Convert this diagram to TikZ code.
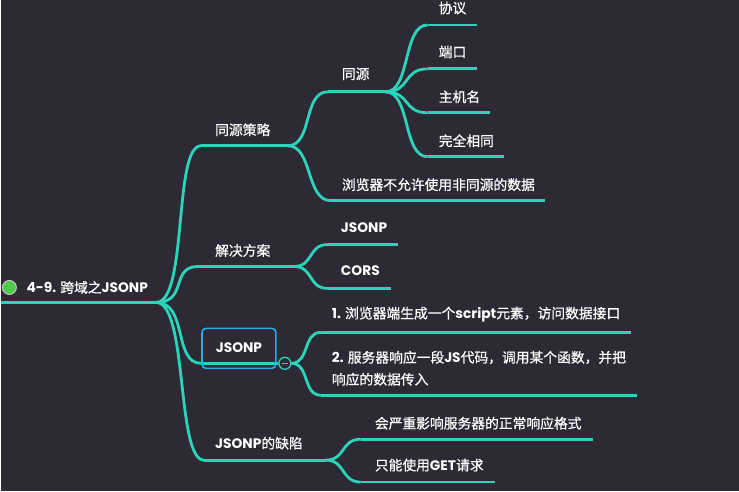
\documentclass[tikz,border=0pt]{standalone}
\usepackage{fontspec}
\setmainfont{Noto Sans CJK SC}[FakeBold=0.6]
\newfontfamily\enfont{Poppins}
\newcommand{\lat}[1]{{\enfont\bfseries #1}}

\definecolor{bgdark}{HTML}{2E2A35}
\definecolor{mapteal}{HTML}{2BD4BA}
\definecolor{boxblue}{HTML}{2AA9F0}
\definecolor{dotgreen}{HTML}{4CCB4C}

\begin{document}
\begin{tikzpicture}[
    x=1pt, y=-1pt,
    every node/.style={text=white, font=\fontsize{13.8}{22}\selectfont},
    topic/.style={anchor=west, inner sep=0pt},
    stem/.style={mapteal, line width=2.8pt},
    link/.style={mapteal, line width=2.8pt},
]

% === Canvas ===
\fill[bgdark] (0,0) rectangle (739,492);

% === Root ===
\coordinate (root-s) at (0,303);
\coordinate (root-e) at (155,303);
\draw[stem] (root-s) -- (root-e);
\node[circle, fill=dotgreen, draw=gray!45, line width=1pt, minimum size=14pt, inner sep=0pt] (dot) at (8,288) {};
\node[topic] (root) at (25,288) {\lat{4-9.} 跨域之\lat{JSONP}};

% === Level 1 ===
% 同源策略
\coordinate (tycl-s) at (200,146);
\coordinate (tycl-e) at (287,146);
\draw[stem] (tycl-s) -- (tycl-e);
\node[topic] (tycl) at (214,130) {同源策略};

% 解决方案
\coordinate (jjfa-s) at (197,267);
\coordinate (jjfa-e) at (293,267);
\draw[stem] (jjfa-s) -- (jjfa-e);
\node[topic] (jjfa) at (214,251) {解决方案};

% JSONP (selected, with box)
\coordinate (jsonp-s) at (200,364);
\coordinate (jsonp-e) at (277,364);
\draw[stem] (jsonp-s) -- (jsonp-e);
\node (jsonp) at (238,348) {\lat{JSONP}};
\draw[boxblue, line width=1.6pt, rounded corners=4pt] (201,329) rectangle (275,369);
\node[circle, fill=bgdark, draw=mapteal, line width=1.3pt, minimum size=12pt, inner sep=0pt] (fold) at (284,364) {};
\draw[mapteal, line width=1.2pt] ([xshift=-3pt]fold.center) -- ([xshift=3pt]fold.center);

% JSONP的缺陷
\coordinate (qx-s) at (203,461);
\coordinate (qx-e) at (325,461);
\draw[stem] (qx-s) -- (qx-e);
\node[topic] (qx) at (214,444) {\lat{JSONP}的缺陷};

% === Level 2 ===
% 同源
\coordinate (ty-s) at (327,92);
\coordinate (ty-e) at (385,92);
\draw[stem] (ty-s) -- (ty-e);
\node[topic] (ty) at (341,74) {同源};

% 浏览器不允许使用非同源的数据
\coordinate (bzx-s) at (330,201);
\coordinate (bzx-e) at (545,201);
\draw[stem] (bzx-s) -- (bzx-e);
\node[topic] (bzx) at (341,185) {浏览器不允许使用非同源的数据};

% JSONP / CORS
\coordinate (fa1-s) at (327,245);
\coordinate (fa1-e) at (397,245);
\draw[stem] (fa1-s) -- (fa1-e);
\node[topic] (fa1) at (340,228) {\lat{JSONP}};

\coordinate (fa2-s) at (327,289);
\coordinate (fa2-e) at (390,289);
\draw[stem] (fa2-s) -- (fa2-e);
\node[topic] (fa2) at (340,271) {\lat{CORS}};

% steps
\coordinate (bu1-s) at (320,333);
\coordinate (bu1-e) at (631,333);
\draw[stem] (bu1-s) -- (bu1-e);
\node[topic] (bu1) at (331,315) {\lat{1.} 浏览器端生成一个\lat{script}元素，访问数据接口};

\coordinate (bu2-s) at (320,396);
\coordinate (bu2-e) at (637,396);
\draw[stem] (bu2-s) -- (bu2-e);
\node[topic, align=left] (bu2) at (331,369) {\lat{2.} 服务器响应一段\lat{JS}代码，调用某个函数，并把\\响应的数据传入};

% defects
\coordinate (qx1-s) at (360,440);
\coordinate (qx1-e) at (593,440);
\draw[stem] (qx1-s) -- (qx1-e);
\node[topic] (qx1) at (374,424) {会严重影响服务器的正常响应格式};

\coordinate (qx2-s) at (360,483);
\coordinate (qx2-e) at (495,483);
\draw[stem] (qx2-s) -- (qx2-e);
\node[topic] (qx2) at (374,466) {只能使用\lat{GET}请求};

% === Level 3 ===
\coordinate (xy-s) at (427,25);
\coordinate (xy-e) at (476,25);
\draw[stem] (xy-s) -- (xy-e);
\node[topic] (xy) at (438,8) {协议};

\coordinate (dk-s) at (427,69);
\coordinate (dk-e) at (476,69);
\draw[stem] (dk-s) -- (dk-e);
\node[topic] (dk) at (438,52) {端口};

\coordinate (zjm-s) at (427,113);
\coordinate (zjm-e) at (490,113);
\draw[stem] (zjm-s) -- (zjm-e);
\node[topic] (zjm) at (438,97) {主机名};

\coordinate (wq-s) at (427,157);
\coordinate (wq-e) at (504,157);
\draw[stem] (wq-s) -- (wq-e);
\node[topic] (wq) at (438,141) {完全相同};

% === Connectors ===
\draw[link] (root-e) .. controls +(32,0) and +(-28,0) .. (tycl-s);
\draw[link] (root-e) .. controls +(32,0) and +(-28,0) .. (jjfa-s);
\draw[link] (root-e) .. controls +(32,0) and +(-28,0) .. (jsonp-s);
\draw[link] (root-e) .. controls +(32,0) and +(-28,0) .. (qx-s);

\draw[link] (tycl-e) .. controls +(25,0) and +(-25,0) .. (ty-s);
\draw[link] (tycl-e) .. controls +(25,0) and +(-25,0) .. (bzx-s);

\draw[link] (jjfa-e) .. controls +(20,0) and +(-20,0) .. (fa1-s);
\draw[link] (jjfa-e) .. controls +(20,0) and +(-20,0) .. (fa2-s);

\draw[link] (fold.east) .. controls +(18,0) and +(-18,0) .. (bu1-s);
\draw[link] (fold.east) .. controls +(18,0) and +(-18,0) .. (bu2-s);

\draw[link] (qx-e) .. controls +(20,0) and +(-20,0) .. (qx1-s);
\draw[link] (qx-e) .. controls +(20,0) and +(-20,0) .. (qx2-s);

\draw[link] (ty-e) .. controls +(25,0) and +(-25,0) .. (xy-s);
\draw[link] (ty-e) .. controls +(25,0) and +(-25,0) .. (dk-s);
\draw[link] (ty-e) .. controls +(25,0) and +(-25,0) .. (zjm-s);
\draw[link] (ty-e) .. controls +(25,0) and +(-25,0) .. (wq-s);

\end{tikzpicture}
\end{document}
